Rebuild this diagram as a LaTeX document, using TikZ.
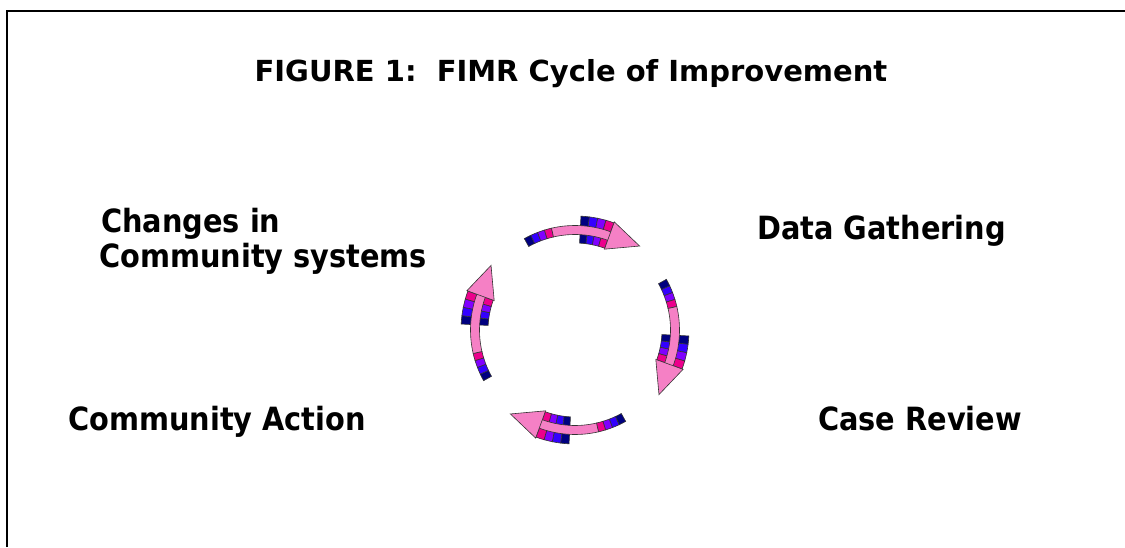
\documentclass[tikz,border=0pt]{standalone}
\usepackage{fontspec}
\setmainfont{DejaVu Sans}
\newfontfamily\lblfont{DejaVu Sans}[FakeStretch=0.9]
\usetikzlibrary{calc}

\colorlet{figNavy}   {blue!50!black}
\colorlet{figBlue}   {blue!80!magenta}
\colorlet{figViolet} {blue!50!magenta}
\colorlet{figMagenta}{magenta}
\colorlet{figPink}   {magenta!50!white}

% ring piece between two angles and two radii
\newcommand\ringseg[4]{(#1:#3) arc[start angle=#1, end angle=#2, radius=#3]
  -- (#2:#4) arc[start angle=#2, end angle=#1, radius=#4] -- cycle}

\begin{document}
\begin{tikzpicture}[x=1pt, y=1pt,
    lbl/.style={font=\lblfont\fontsize{32}{36}\selectfont\bfseries, anchor=base west, inner sep=0pt},
    blk/.style={draw=black!80, line width=0.6pt}]
  \useasboundingbox (0,0) rectangle (1125,547);
  \draw[line width=2.5pt](7,0)--(7,536)--(1125,536);

  \node[font=\fontsize{29}{33}\selectfont\bfseries, anchor=base, inner sep=0pt]
    (title) at (571,465){FIGURE 1:\ \ FIMR Cycle of Improvement};

  \node[lbl] (changes)   at (101,314){Changes in};
  \node[lbl] (community) at (99,279) {Community systems};
  \node[lbl] (data)      at (757,307){Data Gathering};
  \node[lbl] (action)    at (68,117) {Community Action};
  \node[lbl] (review)    at (818,117){Case Review};

  % four curved arrows round the cycle
  \begin{scope}[shift={(575,217)}]
    \foreach \a in {90,0,-90,180}{%
      \foreach \col [count=\i from 0] in {figNavy,figBlue,figViolet,figMagenta}{%
        \filldraw[blk, fill=\col]\ringseg{\a-3-4.25*\i}{\a-7.25-4.25*\i}{87}{114};
        \filldraw[blk, fill=\col]\ringseg{\a+29-4*\i}{\a+25-4*\i}{95.5}{104.5};}
      \filldraw[blk, fill=figPink]\ringseg{\a+13}{\a-21}{95.5}{104.5};
      \filldraw[blk, fill=figPink](\a-20:86)--(\a-20:115)
        --($(\a-20:101)+(\a-110:32)$)--cycle;}
  \end{scope}
\end{tikzpicture}
\end{document}
